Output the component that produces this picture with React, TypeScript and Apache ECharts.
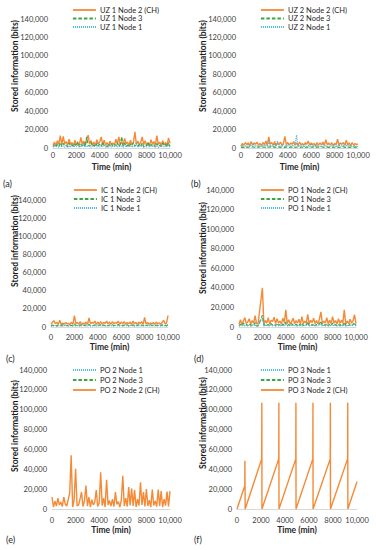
import React, { useEffect, useRef } from 'react';
import * as echarts from 'echarts';

// Sampling step of the noisy series (minutes between points)
const STEP = 125;

// (a) UZ 1
const UZ1_N2 = [3000, 6500, 2500, 8000, 4000, 13500, 3500, 12500, 4500, 7000,
  3000, 9500, 4000, 6000, 2500, 8500, 3500, 5500, 3000, 11500,
  4000, 7500, 3500, 9000, 14000, 4500, 8000, 3000, 6500, 2500,
  9000, 4000, 7000, 12000, 3500, 8500, 3000, 6000, 2500, 7500,
  3500, 5500, 3000, 9500, 4000, 12000, 3500, 7000, 3000, 10500,
  4500, 6500, 2500, 8500, 3500, 6000, 17500, 4000, 7500, 3000,
  6500, 12000, 3500, 8000, 3000, 6000, 2500, 9000, 4000, 7000,
  3000, 13500, 4000, 6500, 2500, 8000, 3500, 6000, 3000, 11000,
  5000];
const UZ1_N3 = [1500, 3500, 1000, 4500, 2000, 6000, 1500, 5000, 2500, 3000,
  1000, 5500, 2000, 3500, 1500, 4500, 2000, 7000, 1500, 4000,
  2500, 5500, 1500, 12000, 3000, 2000, 6000, 1500, 3500, 1000,
  5000, 2000, 4000, 1500, 6500, 2500, 3000, 1000, 4500, 2000,
  5000, 1500, 3500, 2500, 6000, 1500, 4000, 12500, 2000, 5500,
  1500, 3500, 1000, 4500, 2500, 6000, 2000, 3500, 1500, 4000,
  2000, 5500, 1000, 3000, 2500, 6500, 1500, 4000, 2000, 3500,
  1000, 5000, 2000, 3000, 1500, 5500, 2500, 4000, 1000, 6000,
  2000];
const UZ1_N1 = [800, 2500, 1200, 3000, 600, 4000, 1500, 2000, 900, 3500,
  1200, 2500, 700, 4500, 1000, 2000, 1500, 3000, 800, 2500,
  1200, 4000, 900, 2500, 1500, 3500, 700, 2000, 1200, 3000,
  800, 5000, 1000, 2500, 1500, 3000, 600, 2000, 1200, 4000,
  900, 2500, 1500, 3500, 800, 2000, 1200, 3000, 700, 4500,
  1000, 2500, 1500, 3000, 800, 2000, 1200, 5500, 900, 2500,
  1500, 3500, 700, 2000, 1200, 3000, 800, 4000, 1000, 2500,
  1500, 3000, 600, 2000, 1200, 3500, 900, 2500, 1500, 3000,
  1000];

// (b) UZ 2
const UZ2_N2 = [2000, 5000, 3000, 6000, 3500, 5500, 2500, 7000, 3000, 5500,
  4000, 6500, 3000, 5000, 2500, 6000, 3500, 7500, 3000, 12000,
  4000, 6000, 3000, 7000, 2500, 5500, 3500, 6500, 3000, 5000,
  12500, 3500, 6000, 3000, 5500, 4000, 7000, 3000, 5500, 2500,
  6500, 3500, 5000, 3000, 6000, 4000, 7500, 3000, 5500, 3500,
  5000, 2500, 6000, 3000, 5500, 3500, 6500, 3000, 9000, 3500,
  5500, 3000, 6000, 2500, 5000, 3500, 9500, 3000, 5500, 4000,
  6000, 3000, 8500, 3500, 5500, 2500, 6000, 3000, 5000, 3500,
  4500];
const UZ2_N3 = [500, 1000, 700, 1200, 600, 900, 1100, 700, 1300, 800,
  600, 1000, 900, 1200, 700, 800, 1100, 600, 1000, 900,
  1300, 700, 800, 1200, 600, 1000, 900, 700, 1100, 800,
  600, 1200, 900, 700, 1000, 800, 1300, 600, 900, 1100,
  700, 1000, 800, 1200, 600, 900, 1100, 700, 1000, 800,
  1200, 600, 900, 1000, 700, 1300, 800, 600, 1100, 900,
  700, 1000, 1200, 600, 800, 1100, 900, 700, 1000, 800,
  1300, 600, 900, 1100, 700, 1000, 800, 1200, 600, 900,
  1000];
const UZ2_N1 = [1000, 3000, 1500, 2500, 1000, 4500, 1500, 3000, 2000, 5500,
  1000, 2500, 1500, 3500, 1200, 3000, 1800, 4000, 1000, 8000,
  1500, 3000, 1200, 4500, 2000, 7500, 1000, 3000, 1500, 4000,
  1200, 3500, 1800, 5000, 1000, 3000, 1500, 4500, 14000, 1200,
  3000, 1500, 4000, 1000, 3500, 2000, 3000, 1200, 4500, 1500,
  3000, 1000, 3500, 1800, 2500, 1200, 4000, 1500, 3000, 1000,
  3500, 1500, 2500, 1200, 4500, 1000, 3000, 1800, 6000, 1500,
  3000, 1200, 4000, 1000, 3500, 1500, 2500, 1200, 3000, 1000,
  2000];

// (c) IC 1
const IC1_N2 = [3000, 5500, 7000, 3500, 5000, 3000, 7500, 2500, 4500, 3000,
  5000, 3500, 4000, 2500, 5500, 3000, 12500, 3500, 5000, 3000,
  6000, 2500, 4500, 3500, 5500, 3000, 10000, 3500, 5000, 4000,
  6500, 3000, 5500, 3500, 6000, 3000, 5000, 4000, 6500, 3500,
  5500, 3000, 6000, 3500, 5000, 4000, 6500, 3000, 5500, 3500,
  6000, 3000, 5000, 3500, 5500, 3000, 6500, 3500, 5000, 3000,
  5500, 3500, 6000, 3000, 10500, 3500, 5000, 3000, 4500, 3500,
  5000, 3000, 5500, 3500, 4500, 3000, 5000, 7500, 3500, 4500,
  12500];
const IC1_N3 = [1200, 2000, 1500, 2500, 1000, 2200, 1800, 1300, 2400, 1500,
  2000, 1200, 2600, 1500, 1900, 1200, 3500, 1600, 2200, 1400,
  2500, 1200, 2000, 1700, 2300, 1300, 2800, 1500, 2100, 1600,
  2400, 1200, 2200, 1800, 2600, 1400, 2000, 1500, 2500, 1300,
  2200, 1700, 2400, 1400, 2000, 1600, 2700, 1300, 2100, 1500,
  2300, 1400, 2600, 1200, 2000, 1700, 2400, 1500, 2200, 1300,
  2500, 1600, 2000, 1400, 3000, 1500, 2200, 1300, 2400, 1600,
  2000, 1200, 2300, 1500, 2100, 1400, 2500, 1600, 2000, 1300,
  3000];
const IC1_N1 = [900, 1500, 1100, 1700, 800, 1400, 1200, 1800, 1000, 1500,
  1300, 1900, 900, 1600, 1100, 1400, 2000, 1200, 1600, 900,
  1500, 1300, 1800, 1000, 1600, 1200, 1900, 1100, 1500, 900,
  1700, 1200, 1400, 1000, 1800, 1300, 1600, 900, 1500, 1100,
  1700, 1200, 1400, 1000, 1900, 1300, 1500, 1100, 1600, 900,
  1800, 1200, 1400, 1000, 1700, 1300, 1500, 900, 1600, 1100,
  1800, 1200, 1400, 1000, 2000, 1300, 1500, 1100, 1700, 900,
  1600, 1200, 1400, 1000, 1800, 1300, 1500, 1100, 1600, 1000,
  1800];

// (d) PO 1 (null = no sample, line joins across)
const PO1_N2 = [3000, 7500, 2500, 6000, 9500, 3500, 5000, 8500, 3000, 6500,
  4000, 11500, 3500, 3000, null, null, 40000, 3000, 6500, 4000,
  9500, 3000, 7000, 5500, 10000, 3500, 8500, 4000, 6000, 3000,
  9000, 4500, 17500, 3500, 7500, 3000, 5500, 9000, 3500, 6500,
  4000, 8000, 3000, 10500, 3500, 6000, 4000, 13000, 3000, 7000,
  4500, 9000, 3500, 6500, 3000, 8000, 15500, 3500, 6000, 4000,
  9500, 3000, 7000, 3500, 10500, 4000, 6500, 3000, 8500, 3500,
  7000, 4000, 17500, 3000, 6000, 3500, 8000, 4000, 6500, 12500,
  3500];
const PO1_N3 = [1500, 3000, 1200, 4000, 2000, 2500, 1300, 3500, 1800, 2200,
  1500, 4500, 1200, 1000, null, null, 12000, 1500, 3000, 1800,
  2500, 1200, 3500, 2000, 2800, 1400, 4000, 1600, 2500, 1200,
  3000, 1800, 5000, 1500, 2500, 1200, 3500, 2000, 1500, 2800,
  1200, 3000, 1600, 4000, 1400, 2500, 1800, 5500, 1300, 2800,
  1500, 3500, 1200, 2500, 1800, 3000, 6000, 1400, 2500, 1600,
  3500, 1200, 2800, 1500, 4000, 1800, 2500, 1300, 3000, 1500,
  2800, 1200, 5000, 1600, 2500, 1400, 3500, 1800, 2500, 4500,
  1500];
const PO1_N1 = [800, 1800, 1000, 2200, 900, 1600, 1200, 2400, 800, 1500,
  1100, 2600, 900, 600, null, null, 10000, 1000, 2000, 1200,
  1700, 900, 2300, 1100, 1800, 800, 2500, 1200, 1600, 900,
  2200, 1000, 3000, 1100, 1700, 900, 2400, 1200, 1500, 1000,
  2000, 900, 2600, 1100, 1600, 1200, 2200, 3500, 900, 1800,
  1100, 2400, 1000, 1700, 1200, 2000, 3500, 900, 1600, 1100,
  2300, 1000, 1800, 1200, 2500, 900, 1700, 1100, 2200, 1000,
  1800, 1200, 3000, 900, 1600, 1100, 2400, 1000, 1700, 2800,
  1000];

// (e) PO 2
const PO2_N2 = [12000, 2000, 8000, 3000, 11000, 4000, 7000, 2500, 12000, 5000,
  3000, null, 16000, 54000, 2000, 9000, 40500, 3000, 4000, 10000,
  17000, 2500, 8000, 23500, 3000, 12000, 2000, 9500, 4000, 7000,
  19000, 2500, 6000, 37000, 3500, 11000, 2000, 29500, 4000, 8500,
  3000, 10000, 2500, 17000, 4500, 7500, 2000, 9000, 33500, 3000,
  11000, 2500, 22000, 3500, 20500, 3000, 19000, 2000, 10000, 3500,
  27000, 4000, 17000, 2500, 20000, 3000, 9000, 2000, 19500, 3500,
  8000, 2500, 19500, 3000, 18000, 2000, 10000, 3500, 17500, 2500,
  18000];
const AUX_TIMES = [0, 10000];
const PO2_N3 = [0, 0];
const PO2_N1 = [0, 0];

// (f) PO 3
const PO3_TIMES = [0, 650, 660, 680, 2060, 2070, 2080, 3480, 3490, 3500, 4900, 4910, 4920,
  6320, 6330, 6340, 7770, 7780, 7790, 9220, 9230, 9240, 10000];
const PO3_N2 = [0, 23500, 48500, 0, 50500, 107000, 0, 50500, 107000, 0, 50500, 107000, 0,
  50500, 107000, 0, 50500, 107000, 0, 50500, 107000, 0, 27500];
const PO3_N3 = [0, 0];
const PO3_N1 = [0, 0];

const X_TICKS = { min: 0, max: 10000, interval: 2000 };
const Y_TICKS = { min: 0, max: 140000, interval: 20000 };

const COLORS: Record<string, string> = { n2: '#F58A36', n3: '#3DA643', n1: '#4BB2D0' };
const LINE_TYPES: Record<string, any> = { n2: 'solid', n3: [3.5, 2], n1: [1, 1] };
const WIDTHS: Record<string, number> = { n2: 1.4, n3: 1.2, n1: 1.2 };
const FONT = 'Lato';

const stepped = (vals: (number | null)[]) => vals.map((v, i) => [i * STEP, v]);
const paired = (ts: number[], vals: number[]) => vals.map((v, i) => [ts[i], v]);

type SeriesDef = { name: string; kind: string; data: any[]; hidden?: boolean };
type Panel = {
  label: string; grid: any; series: SeriesDef[];
  legend: { left: number; top: number; gap: number };
  ytitle: { x: number; y: number }; lab: { x: number; y: number };
  xMargin: number; xGap: number;
};

const panels: Panel[] = [
  {
    label: '(a)', grid: { left: 53, top: 19, width: 117, height: 129 },
    series: [
      { name: 'UZ 1 Node 2 (CH)', kind: 'n2', data: stepped(UZ1_N2) },
      { name: 'UZ 1 Node 3', kind: 'n3', data: stepped(UZ1_N3) },
      { name: 'UZ 1 Node 1', kind: 'n1', data: stepped(UZ1_N1) },
    ],
    legend: { left: 72, top: 6, gap: 0.5 }, ytitle: { x: 15, y: 66 }, lab: { x: 3, y: 183 },
    xMargin: 3.5, xGap: 14.5,
  },
  {
    label: '(b)', grid: { left: 241, top: 19, width: 117, height: 129 },
    series: [
      { name: 'UZ 2 Node 2 (CH)', kind: 'n2', data: stepped(UZ2_N2) },
      { name: 'UZ 2 Node 3', kind: 'n3', data: stepped(UZ2_N3) },
      { name: 'UZ 2 Node 1', kind: 'n1', data: stepped(UZ2_N1) },
    ],
    legend: { left: 260, top: 6, gap: 0.5 }, ytitle: { x: 203, y: 66 }, lab: { x: 191, y: 183 },
    xMargin: 3.5, xGap: 14.5,
  },
  {
    label: '(c)', grid: { left: 51, top: 200, width: 117, height: 127 },
    series: [
      { name: 'IC 1 Node 2 (CH)', kind: 'n2', data: stepped(IC1_N2) },
      { name: 'IC 1 Node 3', kind: 'n3', data: stepped(IC1_N3) },
      { name: 'IC 1 Node 1', kind: 'n1', data: stepped(IC1_N1) },
    ],
    legend: { left: 73, top: 186, gap: 1 }, ytitle: { x: 15, y: 241 }, lab: { x: 6, y: 358 },
    xMargin: 6, xGap: 15.5,
  },
  {
    label: '(d)', grid: { left: 239, top: 190, width: 117, height: 137 },
    series: [
      { name: 'PO 1 Node 2 (CH)', kind: 'n2', data: stepped(PO1_N2) },
      { name: 'PO 1 Node 3', kind: 'n3', data: stepped(PO1_N3) },
      { name: 'PO 1 Node 1', kind: 'n1', data: stepped(PO1_N1) },
    ],
    legend: { left: 260, top: 186, gap: 1 }, ytitle: { x: 203, y: 248 }, lab: { x: 194, y: 358 },
    xMargin: 6, xGap: 15.5,
  },
  {
    label: '(e)', grid: { left: 52, top: 370, width: 118, height: 139 },
    series: [
      { name: 'PO 2 Node 1', kind: 'n1', data: paired(AUX_TIMES, PO2_N1), hidden: true },
      { name: 'PO 2 Node 3', kind: 'n3', data: paired(AUX_TIMES, PO2_N3), hidden: true },
      { name: 'PO 2 Node 2 (CH)', kind: 'n2', data: stepped(PO2_N2) },
    ],
    legend: { left: 72, top: 366, gap: 2 }, ytitle: { x: 15, y: 426 }, lab: { x: 6, y: 539 },
    xMargin: 7, xGap: 16,
  },
  {
    label: '(f)', grid: { left: 237, top: 370, width: 120, height: 139 },
    series: [
      { name: 'PO 3 Node 1', kind: 'n1', data: paired(AUX_TIMES, PO3_N1), hidden: true },
      { name: 'PO 3 Node 3', kind: 'n3', data: paired(AUX_TIMES, PO3_N3), hidden: true },
      { name: 'PO 3 Node 2 (CH)', kind: 'n2', data: paired(PO3_TIMES, PO3_N2) },
    ],
    legend: { left: 260, top: 366, gap: 2 }, ytitle: { x: 203, y: 423 }, lab: { x: 194, y: 539 },
    xMargin: 7, xGap: 16,
  },
];

const fmtX = (v: number) => (v >= 10000 ? v.toLocaleString('en-US') : String(v));
const fmtY = (v: number) => v.toLocaleString('en-US');

function buildOption() {
  const grid: any[] = [];
  const xAxis: any[] = [];
  const yAxis: any[] = [];
  const series: any[] = [];
  const legend: any[] = [];
  const graphic: any[] = [];
  panels.forEach((p, gi) => {
    grid.push({ ...p.grid, containLabel: false });
    xAxis.push({
      type: 'value', gridIndex: gi, ...X_TICKS,
      axisLine: { show: true, lineStyle: { color: '#d9d9d9', width: 1 } },
      axisTick: { show: false }, splitLine: { show: false },
      axisLabel: { fontSize: 7.5, color: '#404040', margin: p.xMargin, formatter: fmtX, fontFamily: FONT },
      name: 'Time (min)', nameLocation: 'middle', nameGap: p.xGap,
      nameTextStyle: { fontSize: 8.5, fontWeight: 'bold', color: '#262626', fontFamily: FONT },
      z: 3,
    });
    yAxis.push({
      type: 'value', gridIndex: gi, ...Y_TICKS,
      axisLine: { show: false }, axisTick: { show: false }, splitLine: { show: false },
      axisLabel: { fontSize: 7.5, color: '#404040', margin: 5, formatter: fmtY, fontFamily: FONT },
    });
    p.series.forEach((s) => {
      series.push({
        type: 'line', name: s.name, xAxisIndex: gi, yAxisIndex: gi, data: s.data,
        showSymbol: false, symbol: 'none', connectNulls: true,
        z: s.hidden ? 1 : 4,
        lineStyle: {
          color: COLORS[s.kind], width: WIDTHS[s.kind], type: LINE_TYPES[s.kind],
          opacity: s.hidden ? 0 : 1,
        },
        itemStyle: { color: COLORS[s.kind] },
      });
    });
    legend.push({
      data: p.series.map((s) => s.name), orient: 'vertical', left: p.legend.left, top: p.legend.top,
      itemWidth: 23, itemHeight: 8, itemGap: p.legend.gap, padding: 0,
      lineStyle: { width: 1.8, opacity: 1 },
      itemStyle: { opacity: 0 },
      textStyle: { fontSize: 7.5, color: '#262626', fontFamily: FONT, padding: [0, 0, 0, -1] },
      selectedMode: false,
    });
    graphic.push({
      type: 'text', x: p.ytitle.x, y: p.ytitle.y, rotation: Math.PI / 2,
      style: {
        text: 'Stored information (bits)', fontSize: 8.5, fontWeight: 'bold', fontFamily: FONT,
        fill: '#1a1a1a', align: 'center', verticalAlign: 'middle',
      },
    });
    graphic.push({
      type: 'text', x: p.lab.x, y: p.lab.y,
      style: { text: p.label, fontSize: 9, fontFamily: FONT, fill: '#262626', align: 'left', verticalAlign: 'middle' },
    });
  });
  return {
    animation: false,
    backgroundColor: '#ffffff',
    textStyle: { fontFamily: FONT },
    grid, xAxis, yAxis, series, legend, graphic,
  };
}

export default function App() {
  const ref = useRef<HTMLDivElement>(null);
  useEffect(() => {
    if (!ref.current) return;
    const chart = echarts.init(ref.current, undefined, { renderer: 'svg' });
    chart.setOption(buildOption() as any);
    return () => chart.dispose();
  }, []);
  return <div ref={ref} style={{ position: 'absolute', left: 0, top: 0, width: 376, height: 550 }} />;
}
